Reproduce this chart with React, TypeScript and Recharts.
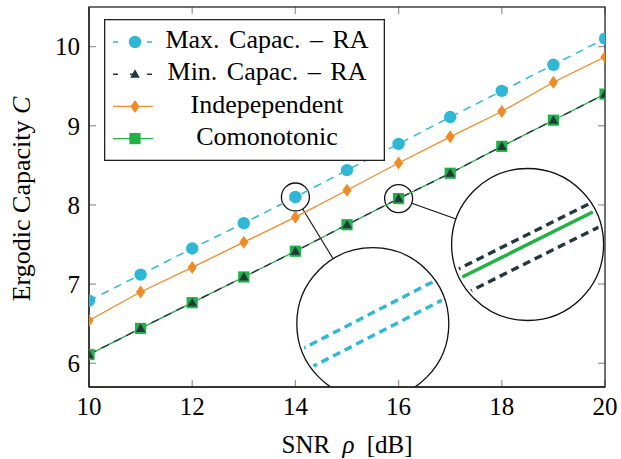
import React from 'react';
import * as R from 'recharts';

const { LineChart, Line, XAxis, YAxis, Legend, Customized } = R as any;

// ---------- data ----------
const snr = [10, 11, 12, 13, 14, 15, 16, 17, 18, 19, 20];
const maxCapacity = [6.79, 7.12, 7.45, 7.77, 8.10, 8.44, 8.77, 9.11, 9.44, 9.77, 10.10];
const minCapacity = [6.11, 6.44, 6.765, 7.09, 7.415, 7.75, 8.08, 8.40, 8.74, 9.07, 9.40];
const independent = [6.54, 6.90, 7.21, 7.53, 7.845, 8.185, 8.53, 8.86, 9.18, 9.55, 9.87];
const comonotonic = [6.11, 6.44, 6.765, 7.09, 7.415, 7.75, 8.08, 8.40, 8.74, 9.07, 9.40];
const xTicks = [10, 12, 14, 16, 18, 20];
const yTicks = [6, 7, 8, 9, 10];
const seriesNames = ['Max. Capac. – RA', 'Min. Capac. – RA', 'Indepependent', 'Comonotonic'];

const data = snr.map((x, i) => ({
  snr: x,
  max: maxCapacity[i],
  min: minCapacity[i],
  ind: independent[i],
  com: comonotonic[i],
}));

// ---------- style ----------
const FONT = "'Liberation Serif', 'Times New Roman', serif";
const CYAN = '#2eb8d6';
const ORANGE = '#f08a26';
const DARK = '#24383e';
const GREEN = '#1fb244';
const FRAME = '#222';
const TICK = '#9a9a9a';
const W = 621;
const H = 459;
const MARGIN = { top: 7, right: 16, bottom: 0, left: 0 };
const X_DOMAIN = [10, 20];
const Y_DOMAIN = [5.7, 10.5];
const TICK_LEN = 7;

// ---------- marker shapes ----------
const circleShape = (cx: number, cy: number, k?: any) => (
  <circle key={k} cx={cx} cy={cy} r={6.2} fill={CYAN} stroke="none" />
);
const diamondShape = (cx: number, cy: number, k?: any) => (
  <path key={k} d={`M${cx},${cy - 6.5}L${cx + 4.6},${cy}L${cx},${cy + 6.5}L${cx - 4.6},${cy}Z`} fill={ORANGE} stroke="none" />
);
const squareShape = (cx: number, cy: number, k?: any) => (
  <rect key={k} x={cx - 5.6} y={cy - 5.6} width={11.2} height={11.2} fill={GREEN} stroke="none" />
);
const triangleShape = (cx: number, cy: number, k?: any) => (
  <path key={k} d={`M${cx},${cy - 5}L${cx + 4.8},${cy + 3.6}L${cx - 4.8},${cy + 3.6}Z`} fill={DARK} stroke="none" />
);

const makeDot = (fn: any) => (p: any) => {
  if (p.cx == null || p.cy == null) return <g key={p.index} />;
  return fn(p.cx, p.cy, `d-${p.dataKey}-${p.index}`);
};

// ---------- plot-area helper ----------
function useArea() {
  const hook = (R as any).usePlotArea;
  const a = typeof hook === 'function' ? hook() : null;
  if (a && a.width) return a;
  return { x: 89, y: MARGIN.top, width: W - 89 - MARGIN.right, height: H - MARGIN.top - 72 };
}

function Overlay() {
  const area = useArea();
  const fx = (v: number) => area.x + ((v - X_DOMAIN[0]) / (X_DOMAIN[1] - X_DOMAIN[0])) * area.width;
  const fy = (v: number) => area.y + ((Y_DOMAIN[1] - v) / (Y_DOMAIN[1] - Y_DOMAIN[0])) * area.height;
  const top = area.y;
  const bottom = area.y + area.height;
  const left = area.x;
  const right = area.x + area.width;

  const spies = [
    {
      id: 'spyA', i: 4, vals: maxCapacity, bx: 15.5, by: 6.5,
      lines: [
        { off: -11, color: CYAN, dash: '8 5' },
        { off: 12, color: CYAN, dash: '8 5' },
      ],
    },
    {
      id: 'spyB', i: 6, vals: minCapacity, bx: 18.5, by: 7.5,
      lines: [
        { off: -10, color: DARK, dash: '8 5' },
        { off: 0, color: GREEN, dash: undefined },
        { off: 18, color: DARK, dash: '8 5' },
      ],
    },
  ];
  const rs = 14;
  const rb = 76;

  return (
    <g>
      <defs>
        <clipPath id="plotClip">
          <rect x={area.x} y={area.y} width={area.width} height={area.height} />
        </clipPath>
        {spies.map((s) => (
          <clipPath id={s.id} key={s.id}>
            <circle cx={fx(s.bx)} cy={fy(s.by)} r={rb - 3} />
          </clipPath>
        ))}
      </defs>
      <g clipPath="url(#plotClip)">
        {spies.map((s) => {
          const scx = fx(snr[s.i]);
          const scy = fy(s.vals[s.i]);
          const bcx = fx(s.bx);
          const bcy = fy(s.by);
          const dx = bcx - scx;
          const dy = bcy - scy;
          const len = Math.hypot(dx, dy);
          const ux = dx / len;
          const uy = dy / len;
          const slope =
            (fy(s.vals[s.i + 1]) - fy(s.vals[s.i - 1])) / (fx(snr[s.i + 1]) - fx(snr[s.i - 1]));
          return (
            <g key={s.id}>
              <line x1={scx + rs * ux} y1={scy + rs * uy} x2={bcx - rb * ux} y2={bcy - rb * uy} stroke="#111" strokeWidth={1.1} />
              <circle cx={bcx} cy={bcy} r={rb} fill="#fff" stroke="none" />
              <g clipPath={`url(#${s.id})`}>
                {s.lines.map((l, j) => (
                  <line
                    key={j}
                    x1={bcx - rb - 10}
                    y1={bcy + l.off + slope * (-rb - 10)}
                    x2={bcx + rb + 10}
                    y2={bcy + l.off + slope * (rb + 10)}
                    stroke={l.color}
                    strokeWidth={3.4}
                    strokeDasharray={l.dash}
                  />
                ))}
              </g>
              <circle cx={bcx} cy={bcy} r={rb} fill="none" stroke="#111" strokeWidth={1.3} />
              <circle cx={scx} cy={scy} r={rs} fill="none" stroke="#111" strokeWidth={1.3} />
            </g>
          );
        })}
      </g>
      {/* inner tick marks on all four sides */}
      <g stroke={TICK} strokeWidth={1.3}>
        {xTicks.map((t) => (
          <g key={`xt${t}`}>
            <line x1={fx(t)} y1={bottom} x2={fx(t)} y2={bottom - TICK_LEN} />
            <line x1={fx(t)} y1={top} x2={fx(t)} y2={top + TICK_LEN} />
          </g>
        ))}
        {yTicks.map((t) => (
          <g key={`yt${t}`}>
            <line x1={left} y1={fy(t)} x2={left + TICK_LEN} y2={fy(t)} />
            <line x1={right} y1={fy(t)} x2={right - TICK_LEN} y2={fy(t)} />
          </g>
        ))}
      </g>
      <rect x={left} y={top} width={area.width} height={area.height} fill="none" stroke={FRAME} strokeWidth={1.3} />
      {/* axis titles */}
      <text
        x={area.x + area.width / 2}
        y={453}
        textAnchor="middle"
        fontFamily={FONT}
        fontSize={25}
        fill="#000"
        style={{ wordSpacing: '6px' }}
      >
        SNR <tspan fontStyle="italic">ρ</tspan> [dB]
      </text>
      <text
        x={30}
        y={199}
        transform="rotate(-90 30 199)"
        textAnchor="middle"
        fontFamily={FONT}
        fontSize={26}
        fill="#000"
      >
        Ergodic Capacity <tspan fontStyle="italic">C</tspan>
      </text>
    </g>
  );
}

// ---------- legend ----------
const legendRows = [
  { color: CYAN, dash: true, shape: circleShape },
  { color: DARK, dash: true, shape: triangleShape },
  { color: ORANGE, dash: false, shape: diamondShape },
  { color: GREEN, dash: false, shape: squareShape },
];

function LegendBox() {
  const bw = 281;
  const bh = 142;
  return (
    <svg width={bw} height={bh} style={{ display: 'block' }}>
      <rect x={0.65} y={0.65} width={bw - 1.3} height={bh - 1.3} fill="#fff" stroke={FRAME} strokeWidth={1.3} />
      {legendRows.map((r, i) => {
        const y = 23 + i * 32.2;
        return (
          <g key={i}>
            {r.dash ? (
              <line x1={9} y1={y} x2={49} y2={y} stroke={r.color} strokeWidth={1.4} strokeDasharray="5 12" />
            ) : (
              <line x1={9} y1={y} x2={49} y2={y} stroke={r.color} strokeWidth={1.4} />
            )}
            {r.shape(31, y)}
            <text
              x={163}
              y={y + 6.2}
              textAnchor="middle"
              fontFamily={FONT}
              fontSize={26}
              fill="#000"
              style={{ wordSpacing: '3px' }}
            >
              {seriesNames[i]}
            </text>
          </g>
        );
      })}
    </svg>
  );
}

export default function App() {
  const axisLine = { stroke: FRAME, strokeWidth: 1.3 };
  const tickStyle = { fontSize: 25, fill: '#000', fontFamily: FONT };
  return (
    <div style={{ position: 'absolute', left: 0, top: 0, width: W, height: H, background: '#fff' }}>
      <LineChart width={W} height={H} data={data} margin={MARGIN}>
        <XAxis
          dataKey="snr"
          type="number"
          domain={X_DOMAIN}
          ticks={xTicks}
          interval={0}
          allowDataOverflow
          height={72}
          tickSize={-7}
          tickMargin={17}
          tick={tickStyle}
          axisLine={axisLine}
          tickLine={false}
        />
        <YAxis
          type="number"
          domain={Y_DOMAIN}
          ticks={yTicks}
          interval={0}
          allowDataOverflow
          width={89}
          tickSize={-7}
          tickMargin={16}
          tick={tickStyle}
          axisLine={axisLine}
          tickLine={false}
        />
        <Line
          dataKey="com"
          name={seriesNames[3]}
          type="linear"
          stroke={GREEN}
          strokeWidth={1.3}
          dot={makeDot(squareShape)}
          activeDot={false}
          isAnimationActive={false}
        />
        <Line
          dataKey="min"
          name={seriesNames[1]}
          type="linear"
          stroke={DARK}
          strokeWidth={1.4}
          strokeDasharray="8 6"
          dot={makeDot(triangleShape)}
          activeDot={false}
          isAnimationActive={false}
        />
        <Line
          dataKey="ind"
          name={seriesNames[2]}
          type="linear"
          stroke={ORANGE}
          strokeWidth={1.3}
          dot={makeDot(diamondShape)}
          activeDot={false}
          isAnimationActive={false}
        />
        <Line
          dataKey="max"
          name={seriesNames[0]}
          type="linear"
          stroke={CYAN}
          strokeWidth={1.5}
          strokeDasharray="8 6"
          dot={makeDot(circleShape)}
          activeDot={false}
          isAnimationActive={false}
        />
        <Customized component={Overlay} />
        <Legend
          layout="vertical"
          align="center"
          verticalAlign="middle"
          content={() => <LegendBox />}
          wrapperStyle={{ position: 'absolute', left: 104, top: 19, width: 281, height: 142, margin: 0, padding: 0 }}
        />
      </LineChart>
    </div>
  );
}
